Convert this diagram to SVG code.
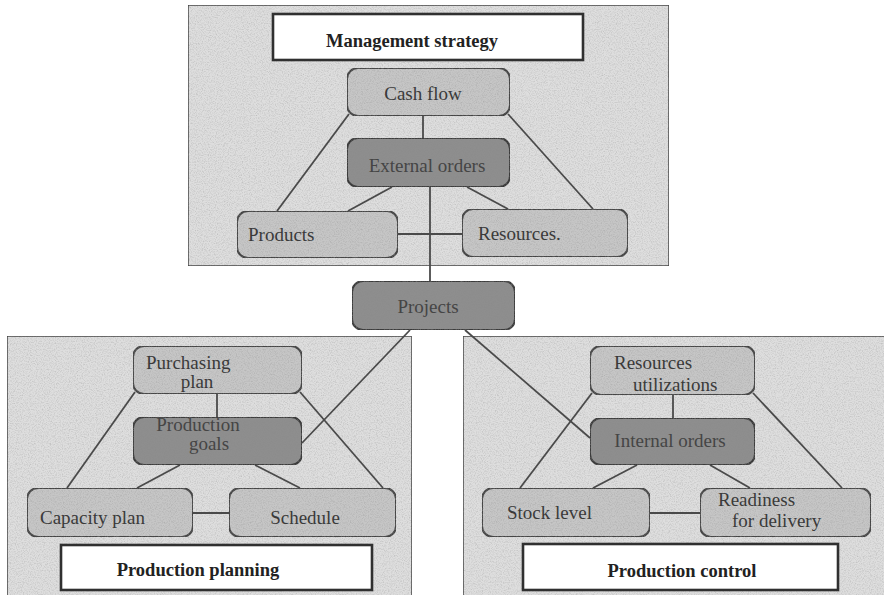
<svg xmlns="http://www.w3.org/2000/svg" width="884" height="595" viewBox="0 0 884 595" font-family="'Liberation Serif', 'Times New Roman', 'DejaVu Serif', serif">
  <defs>
    <!-- speckled paper texture for shaded areas -->
    <filter id="grain" x="0" y="0" width="1" height="1">
      <feTurbulence type="fractalNoise" baseFrequency="0.85" numOctaves="2" seed="7" result="t"/>
      <feColorMatrix in="t" type="matrix" values="0 0 0 0 0.25  0 0 0 0 0.25  0 0 0 0 0.25  0.9 0 0 0 -0.38" result="dots"/>
      <feComposite in="dots" in2="SourceAlpha" operator="in" result="d2"/>
      <feMerge><feMergeNode in="SourceGraphic"/><feMergeNode in="d2"/></feMerge>
    </filter>
    <style>
      .panel { fill: #dedede; stroke: #4a4a4a; stroke-width: 1.6; }
      .title { fill: #ffffff; stroke: #303030; stroke-width: 2.6; }
      .light { fill: #c6c6c6; stroke: #444; stroke-width: 2; }
      .dark  { fill: #8e8e8e; stroke: #3a3a3a; stroke-width: 2; }
      .link  { stroke: #4a4a4a; stroke-width: 1.8; fill: none; }
      .lbl { font-family: 'Liberation Serif', 'Times New Roman', 'DejaVu Serif', serif; font-size: 19px; fill: #3a3a3a; }
      .dk { fill: #454545; }
      .bold { font-weight: bold; fill: #222; font-size: 18.5px; }
    </style>
  </defs>

  <rect width="884" height="595" fill="#ffffff"/>

  <!-- section backgrounds -->
  <g id="panel-strategy"><rect class="panel" x="188" y="5" width="481" height="261" filter="url(#grain)"/></g>
  <g id="panel-planning"><rect class="panel" x="7" y="336" width="405" height="265" filter="url(#grain)"/></g>
  <g id="panel-control"><rect class="panel" x="463" y="336" width="430" height="265" filter="url(#grain)"/></g>

  <!-- connectors -->
  <g id="connectors">
    <!-- management strategy -->
    <line class="link" x1="423" y1="116" x2="423" y2="138"/>
    <line class="link" x1="349" y1="114" x2="277" y2="211"/>
    <line class="link" x1="508" y1="114" x2="593" y2="209"/>
    <line class="link" x1="392" y1="187" x2="348" y2="211"/>
    <line class="link" x1="467" y1="187" x2="508" y2="209"/>
    <line class="link" x1="398" y1="234" x2="462" y2="234"/>
    <line class="link" x1="430" y1="187" x2="430" y2="281"/>
    <!-- projects to sections -->
    <line class="link" x1="410" y1="330" x2="302" y2="443"/>
    <line class="link" x1="465" y1="330" x2="590" y2="438"/>
    <!-- production planning -->
    <line class="link" x1="217" y1="394" x2="217" y2="417"/>
    <line class="link" x1="135" y1="392" x2="67" y2="488"/>
    <line class="link" x1="300" y1="392" x2="383" y2="488"/>
    <line class="link" x1="180" y1="465" x2="137" y2="488"/>
    <line class="link" x1="255" y1="465" x2="300" y2="488"/>
    <line class="link" x1="193" y1="513" x2="229" y2="513"/>
    <!-- production control -->
    <line class="link" x1="673" y1="395" x2="673" y2="418"/>
    <line class="link" x1="592" y1="393" x2="520" y2="488"/>
    <line class="link" x1="753" y1="393" x2="842" y2="488"/>
    <line class="link" x1="637" y1="465" x2="593" y2="488"/>
    <line class="link" x1="710" y1="465" x2="750" y2="488"/>
    <line class="link" x1="650" y1="513" x2="700" y2="513"/>
  </g>

  <!-- management strategy section -->
  <g id="title-strategy">
    <rect class="title" x="273" y="14" width="310" height="46"/>
    <text class="lbl bold" x="412" y="47" text-anchor="middle">Management strategy</text>
  </g>
  <g id="cash-flow">
    <rect class="light" x="347" y="68" width="163" height="48" rx="11" filter="url(#grain)"/>
    <text class="lbl" x="423" y="100" text-anchor="middle">Cash flow</text>
  </g>
  <g id="external-orders">
    <rect class="dark" x="347" y="138" width="163" height="49" rx="11" filter="url(#grain)"/>
    <text class="lbl dk" x="427" y="172" text-anchor="middle">External orders</text>
  </g>
  <g id="products">
    <rect class="light" x="237" y="211" width="161" height="47" rx="11" filter="url(#grain)"/>
    <text class="lbl" x="248" y="241">Products</text>
  </g>
  <g id="resources">
    <rect class="light" x="462" y="209" width="166" height="48" rx="11" filter="url(#grain)"/>
    <text class="lbl" x="478" y="240">Resources.</text>
  </g>

  <g id="projects">
    <rect class="dark" x="352" y="281" width="163" height="49" rx="11" filter="url(#grain)"/>
    <text class="lbl dk" x="428" y="313" text-anchor="middle">Projects</text>
  </g>

  <!-- production planning section -->
  <g id="purchasing-plan">
    <rect class="light" x="133" y="346" width="169" height="48" rx="11" filter="url(#grain)"/>
    <text class="lbl" x="146" y="369">Purchasing</text>
    <text class="lbl" x="197" y="388" text-anchor="middle">plan</text>
  </g>
  <g id="production-goals">
    <rect class="dark" x="133" y="417" width="169" height="48" rx="11" filter="url(#grain)"/>
    <text class="lbl dk" x="198" y="431" text-anchor="middle">Production</text>
    <text class="lbl dk" x="209" y="450" text-anchor="middle">goals</text>
  </g>
  <g id="capacity-plan">
    <rect class="light" x="27" y="488" width="166" height="49" rx="11" filter="url(#grain)"/>
    <text class="lbl" x="40" y="524">Capacity plan</text>
  </g>
  <g id="schedule">
    <rect class="light" x="229" y="488" width="167" height="49" rx="11" filter="url(#grain)"/>
    <text class="lbl" x="305" y="524" text-anchor="middle">Schedule</text>
  </g>
  <g id="title-planning">
    <rect class="title" x="61" y="545" width="311" height="45"/>
    <text class="lbl bold" x="198" y="576" text-anchor="middle">Production planning</text>
  </g>

  <!-- production control section -->
  <g id="resources-utilizations">
    <rect class="light" x="590" y="346" width="165" height="49" rx="11" filter="url(#grain)"/>
    <text class="lbl" x="614" y="369">Resources</text>
    <text class="lbl" x="633" y="391">utilizations</text>
  </g>
  <g id="internal-orders">
    <rect class="dark" x="590" y="418" width="165" height="47" rx="11" filter="url(#grain)"/>
    <text class="lbl dk" x="670" y="447" text-anchor="middle">Internal orders</text>
  </g>
  <g id="stock-level">
    <rect class="light" x="482" y="488" width="168" height="49" rx="11" filter="url(#grain)"/>
    <text class="lbl" x="507" y="519">Stock level</text>
  </g>
  <g id="readiness">
    <rect class="light" x="700" y="488" width="171" height="49" rx="11" filter="url(#grain)"/>
    <text class="lbl" x="718" y="506">Readiness</text>
    <text class="lbl" x="732" y="527">for delivery</text>
  </g>
  <g id="title-control">
    <rect class="title" x="523" y="544" width="315" height="46"/>
    <text class="lbl bold" x="682" y="577" text-anchor="middle">Production control</text>
  </g>
</svg>
